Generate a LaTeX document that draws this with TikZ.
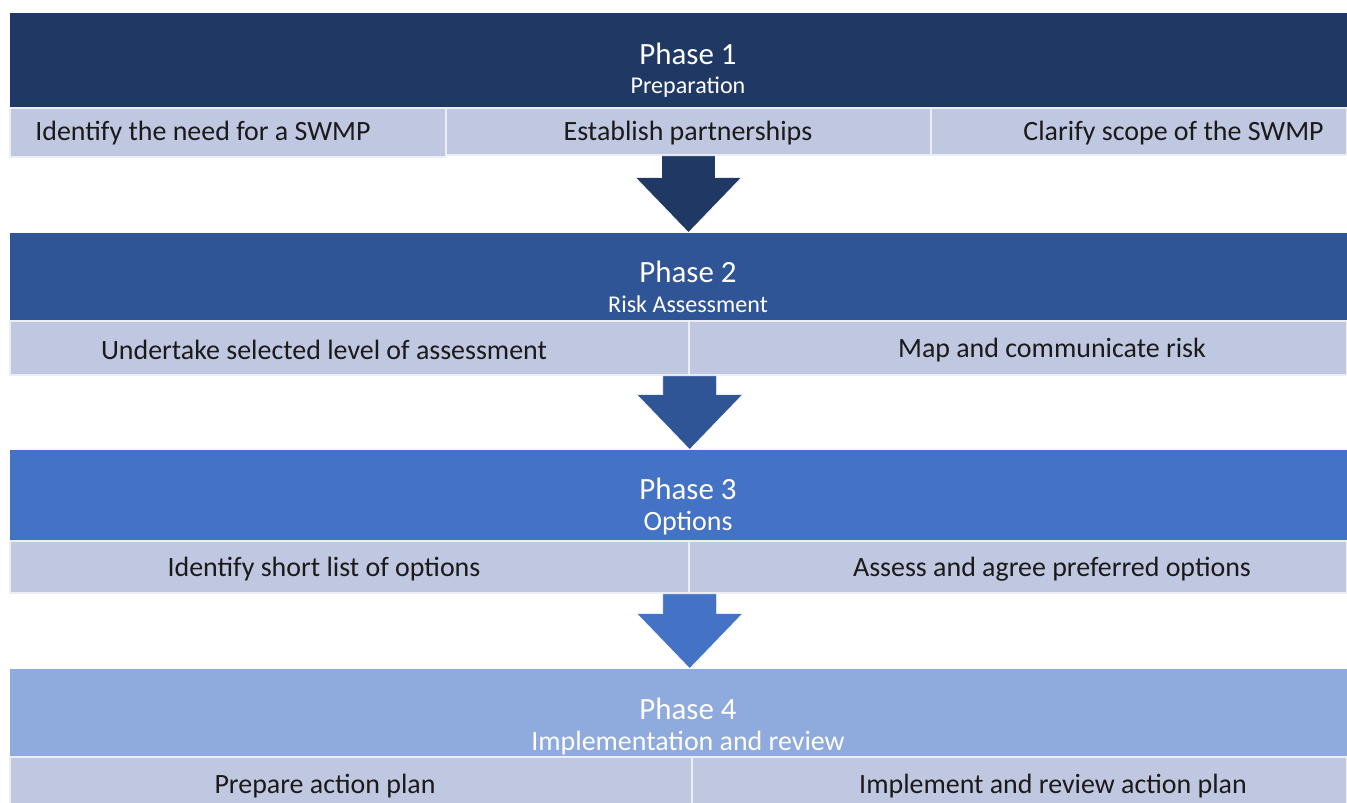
\documentclass[tikz,border=0pt]{standalone}
\usepackage{fontspec}
\setmainfont{Carlito}
\usetikzlibrary{positioning,calc,fit}
\definecolor{cP1}{HTML}{203864}
\definecolor{cP2}{HTML}{2F5597}
\definecolor{cP3}{HTML}{4472C4}
\definecolor{cP4}{HTML}{8FAADC}
\definecolor{cSub}{HTML}{C0C7E1}
\definecolor{cInk}{HTML}{1A1A1A}
\tikzset{
  band/.style={fill=#1,inner sep=0pt},
  cell/.style={fill=cSub,draw=white!70!cSub,line width=0.8pt,inner sep=0pt},
  ttl/.style={font=\fontsize{17.6}{20}\selectfont,text=white,inner sep=0pt},
  subttl/.style={font=\fontsize{#1}{18}\selectfont,text=white,inner sep=0pt,yshift=-1.1pt},
  subttl/.default=13.7,
  task/.style={font=\fontsize{15.9}{18}\selectfont,text=cInk,inner sep=0pt,yshift=-1.1pt},
}
% block arrow from a cell edge down to the next header
\newcommand{\phasearrow}[3]{%
  \fill[#3,draw=white,line width=0.4pt] ($(#1)+(-27,0)$) -- ($(#1)+(27,0)$)
    -- ($(#2)+(27,-55)$) -- ($(#2)+(53,-55)$) -- (#2)
    -- ($(#2)+(-53,-55)$) -- ($(#2)+(-27,-55)$) -- cycle;}

\begin{document}
\begin{tikzpicture}[x=0.02cm,y=-0.02cm]
  \fill[white] (0,0) rectangle (1347,803);
  \useasboundingbox (0,0) rectangle (1347,803);

  % phase 1
  \node[band=cP1,fit={(10,13) (1347,108)}] (p1) {};
  \node[cell,fit={(10,108) (446,157)}] (p1a) {};
  \node[cell,fit={(446,108) (931,155)}] (p1b) {};
  \node[cell,fit={(931,108) (1347,155)}] (p1c) {};
  \node[ttl] at (688,54) {Phase 1};
  \node[subttl] at (688,85) {Preparation};
  \node[task,anchor=west] at (35,131) {Identify the need for a SWMP};
  \node[task] at (688,131) {Establish partnerships};
  \node[task,anchor=east] at (1324,131) {Clarify scope of the SWMP};

  % phase 2
  \node[band=cP2,fit={(10,233) (1347,321)}] (p2) {};
  \node[cell,fit={(10,321) (689,375)}] (p2a) {};
  \node[cell,fit={(689,321) (1347,375)}] (p2b) {};
  \node[ttl] at (688,272) {Phase 2};
  \node[subttl] at (688,302) {Risk Assessment};
  \node[task] at (324,348) {Undertake selected level of assessment};
  \node[task] at (1052,348) {Map and communicate risk};

  % phase 3
  \node[band=cP3,fit={(10,450) (1347,541)}] (p3) {};
  \node[cell,fit={(10,541) (689,593)}] (p3a) {};
  \node[cell,fit={(689,541) (1347,593)}] (p3b) {};
  \node[ttl] at (688,489) {Phase 3};
  \node[subttl=15.9] at (688,521) {Options};
  \node[task] at (324,567) {Identify short list of options};
  \node[task] at (1052,567) {Assess and agree preferred options};

  % phase 4
  \node[band=cP4,fit={(10,669) (1347,757)}] (p4) {};
  \node[cell,fit={(10,757) (692,812)}] (p4a) {};
  \node[cell,fit={(692,757) (1347,812)}] (p4b) {};
  \node[ttl] at (688,709) {Phase 4};
  \node[subttl=15.9] at (688,741) {Implementation and review};
  \node[task] at (325,784) {Prepare action plan};
  \node[task] at (1053,784) {Implement and review action plan};

  % arrows between phases
  \phasearrow{p1b.south}{p2.north -| p1b.south}{cP1}
  \phasearrow{p2a.south east}{p3.north -| p2a.south east}{cP2}
  \phasearrow{p3a.south east}{p4.north -| p3a.south east}{cP3}
\end{tikzpicture}
\end{document}
